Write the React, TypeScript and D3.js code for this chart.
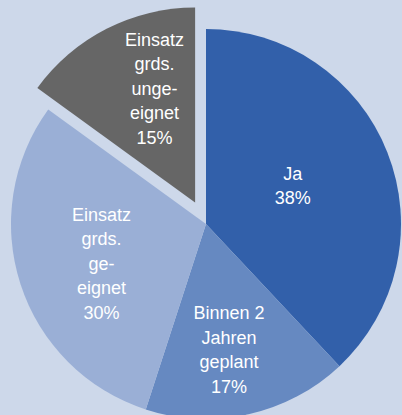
import React, { useEffect, useRef } from 'react';
import * as d3 from 'd3';

// slices, clockwise from 12 o'clock
const labels = [
  ['Ja'],
  ['Binnen 2', 'Jahren', 'geplant'],
  ['Einsatz', 'grds.', 'ge-', 'eignet'],
  ['Einsatz', 'grds.', 'unge-', 'eignet'],
];
const values = [38, 17, 30, 15];
const colors = ['#3260aa', '#6689c1', '#9aafd6', '#666666'];
const exploded = [false, false, false, true];

const App = () => {
  const svgRef = useRef<SVGSVGElement>(null);

  useEffect(() => {
    const width = 402;
    const height = 415;
    const cx = 206;
    const cy = 224;
    const radius = 195;
    const explode = 24;
    const lineHeight = 24.5;
    // label block placement: share of the radius, and a nudge off the mid angle (deg)
    const labelPos = [0.486, 0.656, 0.574, 0.62];
    const labelNudge = [-2.1, 2.2, -2.9, 7.4];

    const svg = d3.select(svgRef.current);
    svg.selectAll('*').remove();

    svg.append('rect')
      .attr('width', width)
      .attr('height', height)
      .attr('fill', '#cdd8ea');

    const pie = d3.pie<number>().sort(null).value(d => d);
    const arcs = pie(values);
    const arc = d3.arc<d3.PieArcDatum<number>>().innerRadius(0).outerRadius(radius);

    const g = svg.append('g').attr('transform', `translate(${cx},${cy})`);

    const slice = g.selectAll('g.slice')
      .data(arcs)
      .enter()
      .append('g')
      .attr('class', 'slice')
      .attr('transform', (d, i) => {
        if (!exploded[i]) return null;
        const a = (d.startAngle + d.endAngle) / 2;
        return `translate(${Math.sin(a) * explode},${-Math.cos(a) * explode})`;
      });

    slice.append('path')
      .attr('d', arc)
      .attr('fill', (_, i) => colors[i]);

    slice.each(function (d, i) {
      const a = (d.startAngle + d.endAngle) / 2 + (labelNudge[i] * Math.PI) / 180;
      const r = radius * labelPos[i];
      const x = Math.sin(a) * r;
      const y = -Math.cos(a) * r;
      const lines = [...labels[i], `${values[i]}%`];
      const top = y - ((lines.length - 1) * lineHeight) / 2 + 6;
      const text = d3.select(this).append('text')
        .attr('text-anchor', 'middle')
        .attr('fill', '#ffffff')
        .style('font-family', '"Liberation Sans", Arial, Helvetica, sans-serif')
        .style('font-size', '18px');
      lines.forEach((line, k) => {
        text.append('tspan')
          .attr('x', x)
          .attr('y', top + k * lineHeight)
          .text(line);
      });
    });
  }, []);

  return (
    <svg
      ref={svgRef}
      width={402}
      height={415}
      style={{ position: 'absolute', left: 0, top: 0, display: 'block' }}
    />
  );
};

export default App;
